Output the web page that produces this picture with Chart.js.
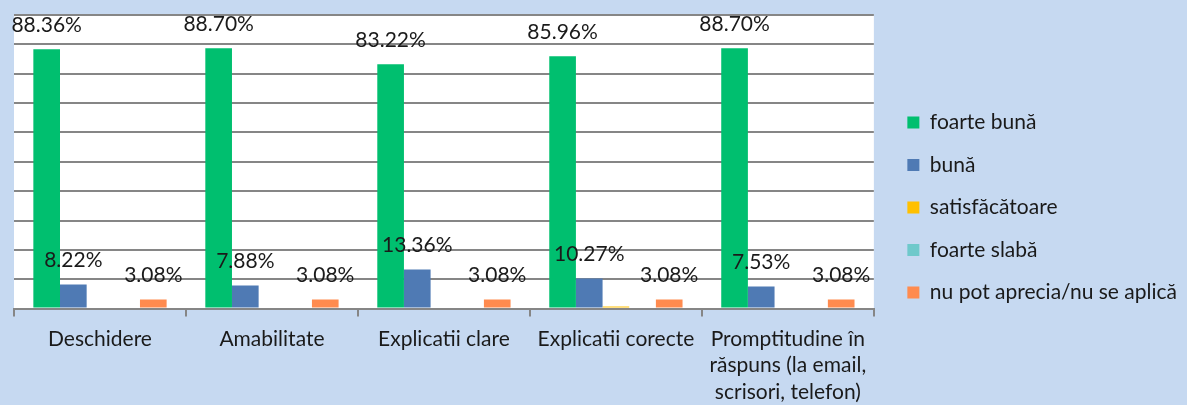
<!DOCTYPE html>
<html><head><meta charset="utf-8">
<script src="https://cdn.jsdelivr.net/npm/chart.js@4.4.0/dist/chart.umd.min.js"></script>
<style>html,body{margin:0;padding:0;background:#C6D9F1;} canvas{display:block;}</style>
</head><body>
<canvas id="c" width="1187" height="405"></canvas>
<script>
const categories = ["Deschidere", "Amabilitate", "Explicatii clare", "Explicatii corecte", ["Promptitudine în", "răspuns (la email,", "scrisori, telefon)"]];
const seriesNames = ["foarte bună", "bună", "satisfăcătoare", "foarte slabă", "nu pot aprecia/nu se aplică"];
const foarteBuna = [88.36, 88.70, 83.22, 85.96, 88.70];
const buna = [8.22, 7.88, 13.36, 10.27, 7.53];
const satisfacatoare = [null, null, null, 0.68, null];
const foarteSlaba = [null, null, null, null, null];
const nuPotAprecia = [3.08, 3.08, 3.08, 3.08, 3.08];
const yMin = 0, yMax = 100, yStep = 10;

const colors = ["#00BF6F", "#4F7AB4", "#FFC000", "#6FC9CB", "#FF8B4F"];
const seriesValues = [foarteBuna, buna, satisfacatoare, foarteSlaba, nuPotAprecia];
const FONT = "Lato, 'Open Sans', sans-serif";

const plotBg = {
  id: 'plotBg',
  beforeDraw(chart) {
    const {ctx, chartArea: a} = chart;
    ctx.save();
    ctx.fillStyle = '#ffffff';
    ctx.fillRect(a.left, a.top, a.right - a.left, a.bottom - a.top);
    ctx.restore();
  }
};

const valueLabels = {
  id: 'valueLabels',
  afterDatasetsDraw(chart) {
    const {ctx} = chart;
    ctx.save();
    ctx.font = "21px " + FONT;
    ctx.fillStyle = '#1a1a1a';
    ctx.textAlign = 'center';
    ctx.textBaseline = 'middle';
    chart.data.datasets.forEach((ds, i) => {
      const meta = chart.getDatasetMeta(i);
      meta.data.forEach((bar, j) => {
        const v = ds.data[j];
        if (v == null || v < 1) return;
        ctx.fillText(v.toFixed(2) + '%', bar.x, bar.y - 24);
      });
    });
    ctx.restore();
  }
};

new Chart(document.getElementById('c'), {
  type: 'bar',
  data: {
    labels: categories,
    datasets: seriesNames.map((n, i) => ({
      label: n,
      data: seriesValues[i],
      backgroundColor: colors[i],
      borderWidth: 0,
      categoryPercentage: 0.775,
      barPercentage: 1.0
    }))
  },
  options: {
    responsive: false,
    animation: false,
    layout: {padding: {left: 14, top: 1, right: 0, bottom: -9}},
    plugins: {
      tooltip: {enabled: false},
      legend: {
        position: 'right',
        maxWidth: 330,
        labels: {
          boxWidth: 12, boxHeight: 12, padding: 21.5,
          color: '#1a1a1a',
          font: {family: FONT, size: 21}
        }
      }
    },
    scales: {
      x: {
        grid: {drawOnChartArea: false, drawTicks: true, tickLength: 8, color: '#868686', lineWidth: 2, offset: true},
        border: {display: true, color: '#868686', width: 2},
        ticks: {color: '#1a1a1a', font: {family: FONT, size: 21, lineHeight: 1.26}, padding: 9, maxRotation: 0, autoSkip: false}
      },
      x2: {
        position: 'top',
        grid: {display: false},
        border: {display: false},
        ticks: {display: false},
        afterFit(s) { s.height = 14; }
      },
      y: {
        min: yMin, max: yMax,
        ticks: {display: false, stepSize: yStep},
        grid: {color: '#868686', lineWidth: 2, drawTicks: false},
        border: {display: false}
      },
      y2: {
        position: 'right',
        grid: {display: false},
        border: {display: false},
        ticks: {display: false},
        afterFit(s) { s.width = 12; }
      }
    }
  },
  plugins: [plotBg, valueLabels]
});
</script>
</body></html>
